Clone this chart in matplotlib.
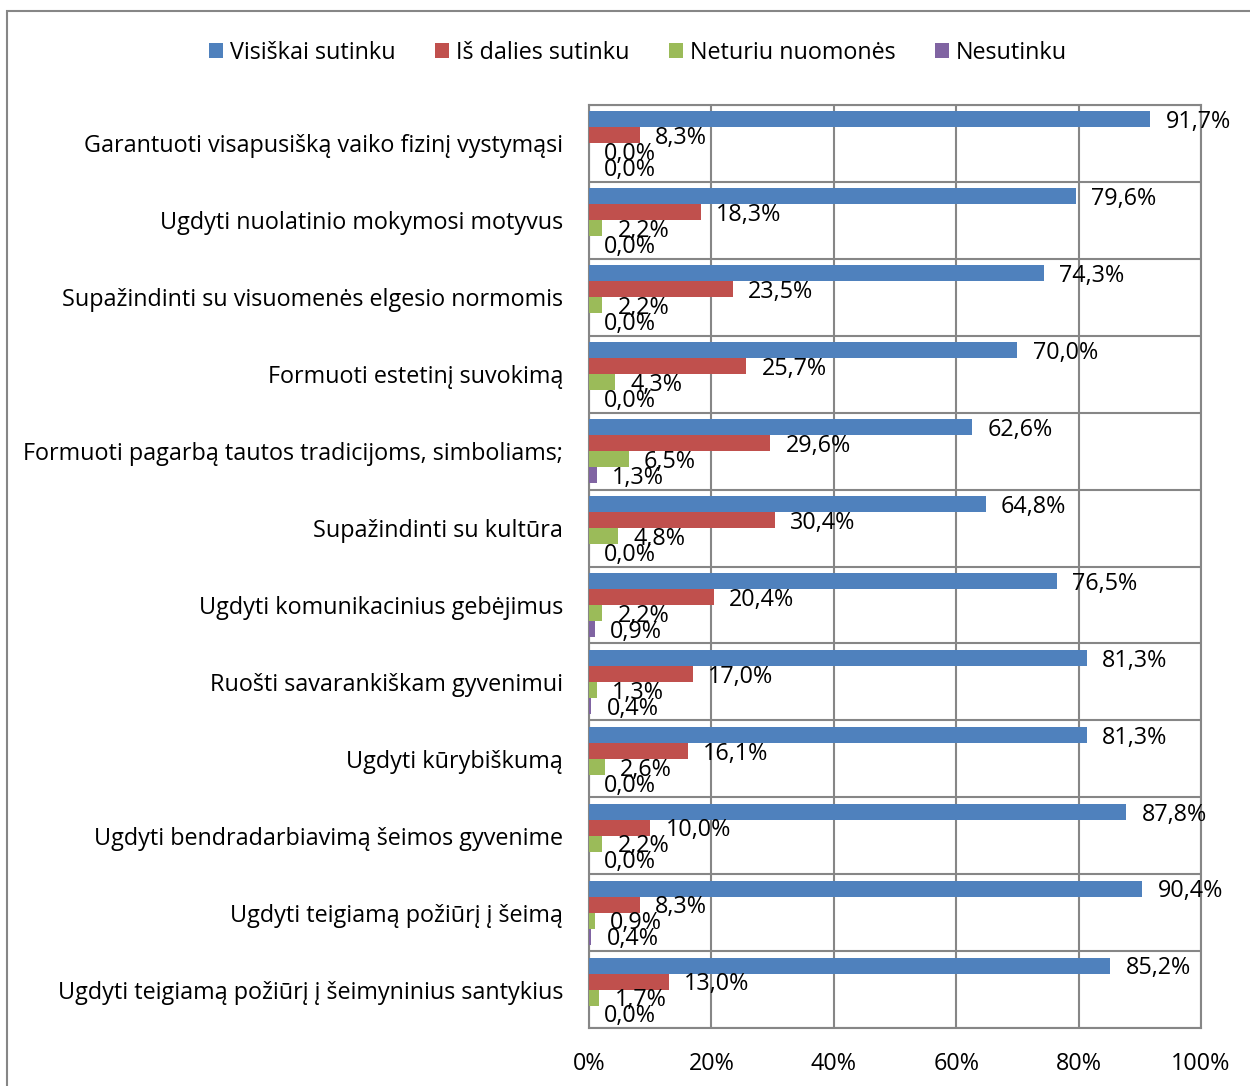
import matplotlib
matplotlib.use("Agg")
import matplotlib.pyplot as plt
import numpy as np
from matplotlib.patches import Rectangle

plt.rcParams['font.family'] = ['Open Sans', 'DejaVu Sans']

categories = [
    "Garantuoti visapusišką vaiko fizinį vystymąsi",
    "Ugdyti nuolatinio mokymosi motyvus",
    "Supažindinti su visuomenės elgesio normomis",
    "Formuoti estetinį suvokimą",
    "Formuoti pagarbą tautos tradicijoms, simboliams;",
    "Supažindinti su kultūra",
    "Ugdyti komunikacinius gebėjimus",
    "Ruošti savarankiškam gyvenimui",
    "Ugdyti kūrybiškumą",
    "Ugdyti bendradarbiavimą šeimos gyvenime",
    "Ugdyti teigiamą požiūrį į šeimą",
    "Ugdyti teigiamą požiūrį į šeimyninius santykius",
]
series_names = ["Visiškai sutinku", "Iš dalies sutinku", "Neturiu nuomonės", "Nesutinku"]
visiskai = [91.7, 79.6, 74.3, 70.0, 62.6, 64.8, 76.5, 81.3, 81.3, 87.8, 90.4, 85.2]
is_dalies = [8.3, 18.3, 23.5, 25.7, 29.6, 30.4, 20.4, 17.0, 16.1, 10.0, 8.3, 13.0]
neturiu = [0.0, 2.2, 2.2, 4.3, 6.5, 4.8, 2.2, 1.3, 2.6, 2.2, 0.9, 1.7]
nesutinku = [0.0, 0.0, 0.0, 0.0, 1.3, 0.0, 0.9, 0.4, 0.0, 0.0, 0.4, 0.0]
xticks = [0, 20, 40, 60, 80, 100]
xticklabels = ["0%", "20%", "40%", "60%", "80%", "100%"]

colors = ["#4F81BD", "#C0504D", "#9BBB59", "#8064A2"]
grid_c = "#868686"

W, H = 1250, 1086
fig = plt.figure(figsize=(W / 100, H / 100), dpi=100)
ax = fig.add_axes([589 / W, 1 - 1028 / H, (1201 - 589) / W, (1028 - 105) / H])

# outer border
fig.patches.append(Rectangle((7 / W, -0.1), 1.2, 1 - 11 / H + 0.1, transform=fig.transFigure,
                             fill=False, edgecolor=grid_c, linewidth=1.5))

h = 16 / 77
y = np.arange(len(categories))
all_series = [visiskai, is_dalies, neturiu, nesutinku]
fs = 16.8
for k, (vals, name, c) in enumerate(zip(all_series, series_names, colors)):
    yy = y + (k - 1.5) * h
    ax.barh(yy, vals, height=h, color=c, label=name, zorder=3)
    for yi, v in zip(yy, vals):
        ax.annotate(f"{v:.1f}%".replace(".", ","), (v, yi), xytext=(11, -2),
                    textcoords="offset points", ha="left", va="center",
                    fontsize=fs, color="black", zorder=5, annotation_clip=False)

ax.set_xlim(0, 100)
ax.set_ylim(len(categories) - 0.5, -0.5)
ax.set_xticks(xticks)
ax.set_xticklabels(xticklabels, fontsize=fs)
ax.set_yticks(y)
ax.set_yticklabels(categories, fontsize=fs)
ax.set_yticks(np.arange(len(categories) + 1) - 0.5, minor=True)
ax.tick_params(axis='y', which='both', length=0, pad=18.7)
ax.tick_params(axis='x', length=0, pad=17)
ax.grid(axis='x', color=grid_c, linewidth=1.5, zorder=0)
ax.grid(axis='y', which='minor', color=grid_c, linewidth=1.5, zorder=0)
ax.grid(axis='y', which='major', visible=False)
for s in ax.spines.values():
    s.set_color(grid_c)
    s.set_linewidth(1.5)

fig.legend(loc="center", bbox_to_anchor=(638 / W, 1 - 53 / H), ncol=4, frameon=False,
           fontsize=fs, handlelength=0.6, handleheight=0.6, handletextpad=0.28,
           columnspacing=1.7, borderpad=0)

fig.savefig("out.png", dpi=100)
